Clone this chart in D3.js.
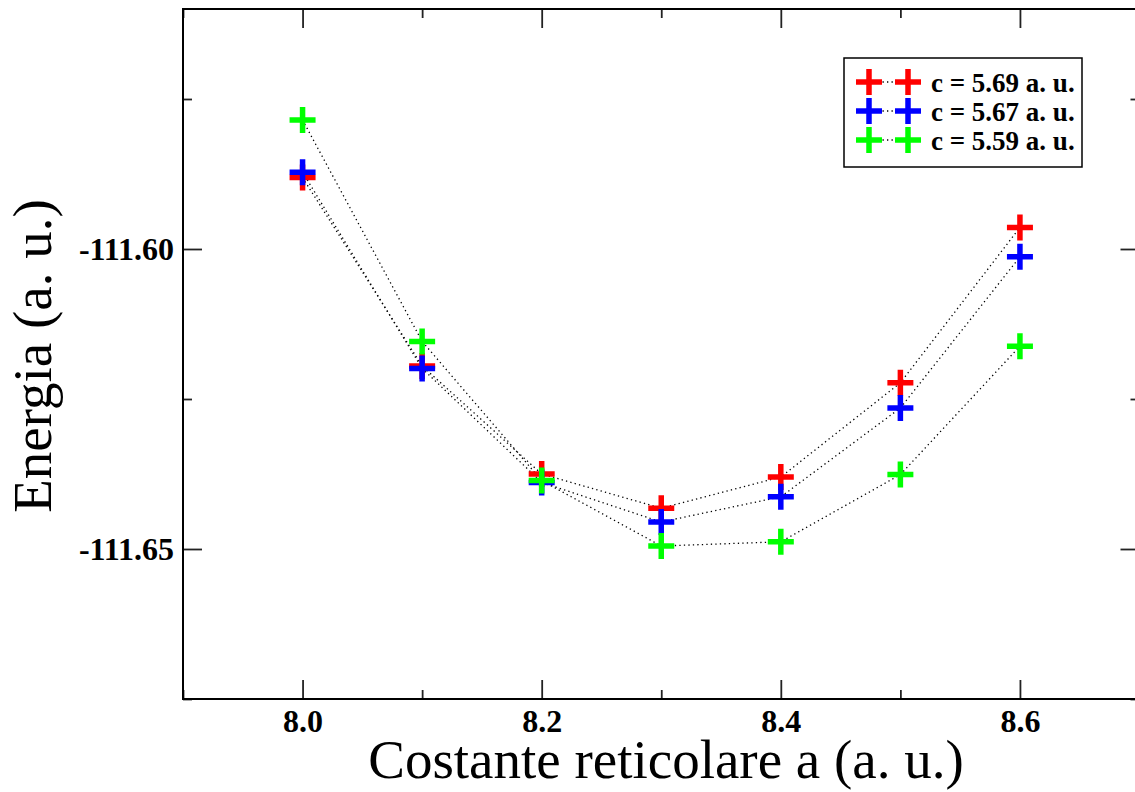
<!DOCTYPE html>
<html>
<head>
<meta charset="utf-8">
<script src="https://cdn.jsdelivr.net/npm/d3@7"></script>
<style>
  html, body { margin: 0; padding: 0; background: #fff; }
  svg { display: block; }
</style>
</head>
<body>
<svg id="chart" width="1135" height="792"></svg>
<script>
// Lattice constant a (a. u.)
const aValues = [8.0, 8.1, 8.2, 8.3, 8.4, 8.5, 8.6];
// Total energy (a. u.) for each c value
const energyC569 = [-111.5881, -111.6195, -111.6375, -111.6432, -111.6380, -111.6223, -111.5964];
const energyC567 = [-111.5872, -111.6199, -111.6389, -111.6455, -111.6413, -111.6265, -111.6013];
const energyC559 = [-111.5785, -111.6154, -111.6386, -111.6495, -111.6488, -111.6376, -111.6162];

const seriesLabels = ["c = 5.69 a. u.", "c = 5.67 a. u.", "c = 5.59 a. u."];
const seriesColors = ["#ff0000", "#0000ff", "#00ff00"];

const xMajorTicks = [8.0, 8.2, 8.4, 8.6];
const xMinorTicks = [7.9, 8.1, 8.3, 8.5, 8.7];
const yMajorTicks = [-111.60, -111.65];
const yMinorTicks = [-111.675, -111.625, -111.575];

const xTitle = "Costante reticolare a (a. u.)";
const yTitle = "Energia (a. u.)";

const series = [energyC569, energyC567, energyC559].map((vals, i) => ({
  label: seriesLabels[i],
  color: seriesColors[i],
  points: aValues.map((a, j) => ({ a, e: vals[j] }))
}));

const svg = d3.select("#chart");
const plotLeft = 183, plotRight = 1139.5, plotTop = 9, plotBottom = 699;

const x = d3.scaleLinear().domain([7.9, 8.7]).range([plotLeft, plotRight]);
const y = d3.scaleLinear().domain([-111.675, -111.56]).range([plotBottom, plotTop]);

const serif = "'Liberation Serif', 'Times New Roman', serif";
// Plain hyphen-minus for negative tick labels
const yFormat = d => d.toFixed(2);

function styleAxis(g) {
  g.select(".domain").remove();
  g.selectAll(".tick line").attr("stroke", "#222").attr("stroke-width", 1.8);
}

// Major and minor ticks on all four sides, pointing inward
svg.append("g").attr("transform", `translate(0,${plotBottom})`)
  .call(d3.axisBottom(x).tickValues(xMajorTicks).tickSize(-19).tickPadding(10).tickFormat(d => d.toFixed(1)))
  .call(styleAxis)
  .call(g => g.selectAll("text").attr("font-family", serif).attr("font-weight", "bold")
    .attr("font-size", 32).attr("fill", "#000"));
svg.append("g").attr("transform", `translate(0,${plotBottom})`)
  .call(d3.axisBottom(x).tickValues(xMinorTicks).tickSize(-9).tickFormat(""))
  .call(styleAxis);
svg.append("g").attr("transform", `translate(0,${plotTop})`)
  .call(d3.axisTop(x).tickValues(xMajorTicks).tickSize(-19).tickFormat(""))
  .call(styleAxis);
svg.append("g").attr("transform", `translate(0,${plotTop})`)
  .call(d3.axisTop(x).tickValues(xMinorTicks).tickSize(-9).tickFormat(""))
  .call(styleAxis);

svg.append("g").attr("transform", `translate(${plotLeft},0)`)
  .call(d3.axisLeft(y).tickValues(yMajorTicks).tickSize(-19).tickPadding(9).tickFormat(yFormat))
  .call(styleAxis)
  .call(g => g.selectAll("text").attr("font-family", serif).attr("font-weight", "bold")
    .attr("font-size", 32).attr("fill", "#000"));
svg.append("g").attr("transform", `translate(${plotLeft},0)`)
  .call(d3.axisLeft(y).tickValues(yMinorTicks).tickSize(-9).tickFormat(""))
  .call(styleAxis);
svg.append("g").attr("transform", `translate(${plotRight},0)`)
  .call(d3.axisRight(y).tickValues(yMajorTicks).tickSize(-19).tickFormat(""))
  .call(styleAxis);
svg.append("g").attr("transform", `translate(${plotRight},0)`)
  .call(d3.axisRight(y).tickValues(yMinorTicks).tickSize(-9).tickFormat(""))
  .call(styleAxis);

// Plot frame
svg.append("rect")
  .attr("x", plotLeft).attr("y", plotTop)
  .attr("width", plotRight - plotLeft).attr("height", plotBottom - plotTop)
  .attr("fill", "none").attr("stroke", "#000").attr("stroke-width", 2);

// Axis titles
svg.append("text")
  .attr("x", 666).attr("y", 778)
  .attr("text-anchor", "middle")
  .attr("font-family", serif).attr("font-size", 55)
  .text(xTitle);
svg.append("text")
  .attr("transform", "translate(51,356) rotate(-90)")
  .attr("text-anchor", "middle")
  .attr("font-family", serif).attr("font-size", 55)
  .text(yTitle);

const plus = "M-13,0H13M0,-13V13";
const line = d3.line().x(d => x(d.a)).y(d => y(d.e));

// Dotted connecting lines first, then markers in series order
const plot = svg.append("g");
series.forEach(s => {
  plot.append("path")
    .datum(s.points)
    .attr("d", line)
    .attr("fill", "none")
    .attr("stroke", "#000")
    .attr("stroke-width", 1.3)
    .attr("stroke-dasharray", "1.3,3.2");
});
series.forEach(s => {
  plot.append("g").selectAll("path")
    .data(s.points)
    .join("path")
    .attr("transform", d => `translate(${x(d.a)},${y(d.e)})`)
    .attr("d", plus)
    .attr("fill", "none")
    .attr("stroke", s.color)
    .attr("stroke-width", 5.5);
});

// Legend
const legend = svg.append("g");
legend.append("rect")
  .attr("x", 844).attr("y", 58).attr("width", 238).attr("height", 109)
  .attr("fill", "#fff").attr("stroke", "#000").attr("stroke-width", 1.5);
series.forEach((s, i) => {
  const cy = 82 + i * 29;
  legend.append("line")
    .attr("x1", 869).attr("x2", 908).attr("y1", cy).attr("y2", cy)
    .attr("stroke", "#000").attr("stroke-width", 1.3).attr("stroke-dasharray", "1.3,3.2");
  [869, 908].forEach(cx => {
    legend.append("path")
      .attr("transform", `translate(${cx},${cy})`)
      .attr("d", plus)
      .attr("fill", "none")
      .attr("stroke", s.color)
      .attr("stroke-width", 5.5);
  });
  legend.append("text")
    .attr("x", 931).attr("y", cy + 10)
    .attr("font-family", serif).attr("font-weight", "bold").attr("font-size", 27)
    .text(s.label);
});
</script>
</body>
</html>
